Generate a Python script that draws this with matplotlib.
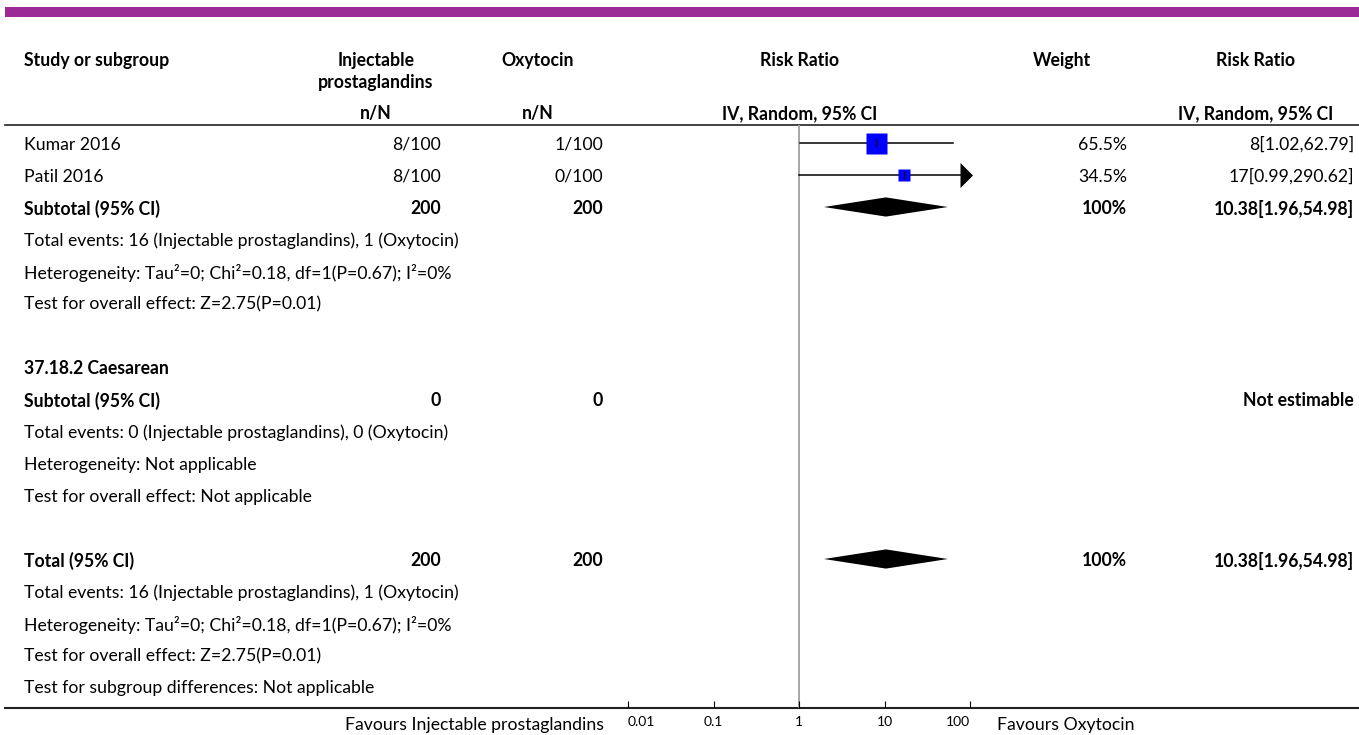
import matplotlib.pyplot as plt
import numpy as np

plt.rcParams['font.family'] = ['Lato', 'DejaVu Sans']

# ---- data ----
grp1 = 'Injectable prostaglandins'
grp2 = 'Oxytocin'

studies = ['Kumar 2016', 'Patil 2016']
ev1 = [8, 8]
n1 = [100, 100]
ev2 = [1, 0]
n2 = [100, 100]
weights = [65.5, 34.5]
rr = [8, 17]
rr_lo = [1.02, 0.99]
rr_hi = [62.79, 290.62]

pooled_rr = 10.38
pooled_lo = 1.96
pooled_hi = 54.98

ticks = [0.01, 0.1, 1, 10, 100]
tick_labels = ['0.01', '0.1', '1', '10', '100']

het = 'Heterogeneity: Tau\u00b2=0; Chi\u00b2=0.18, df=1(P=0.67); I\u00b2=0%'
overall = 'Test for overall effect: Z=2.75(P=0.01)'
events = 'Total events: 16 (Injectable prostaglandins), 1 (Oxytocin)'

# rows: (kind, label, col1, col2, weight, rr text, diamond?)
rows = [
    ('study', 0),
    ('study', 1),
    ('bold', 'Subtotal (95% CI)', '200', '200', '100%', '10.38[1.96,54.98]', True),
    ('note', events),
    ('note', het),
    ('note', overall),
    ('blank',),
    ('bold', '37.18.2 Caesarean', '', '', '', '', False),
    ('bold', 'Subtotal (95% CI)', '0', '0', '', 'Not estimable', False),
    ('note', 'Total events: 0 (Injectable prostaglandins), 0 (Oxytocin)'),
    ('note', 'Heterogeneity: Not applicable'),
    ('note', 'Test for overall effect: Not applicable'),
    ('blank',),
    ('bold', 'Total (95% CI)', '200', '200', '100%', '10.38[1.96,54.98]', True),
    ('note', events),
    ('note', het),
    ('note', overall),
    ('note', 'Test for subgroup differences: Not applicable'),
]

W, H = 1359, 735
FS = 12.7
row0, dy = 143, 32
ax_top, ax_bot = 125, 708
x01, x100 = 628, 970
ty = 1.5  # text baseline nudge

fig = plt.figure(figsize=(W / 100, H / 100), dpi=100)
bg = fig.add_axes([0, 0, 1, 1])
bg.set_xlim(0, W)
bg.set_ylim(H, 0)
bg.axis('off')

# purple band + rules
bg.fill_between([5, W], 7, 17, color='#9b2a97', lw=0)
bg.plot([5, W], [ax_top, ax_top], color='#222222', lw=1.2)
bg.plot([5, W], [ax_bot, ax_bot], color='#222222', lw=1.5)

# headers
hy = 59 + ty
bg.text(24, hy, 'Study or subgroup', fontsize=FS, fontweight='bold', va='center')
bg.text(376, hy, 'Injectable', fontsize=FS, fontweight='bold', va='center', ha='center')
bg.text(376, 81 + ty, 'prostaglandins', fontsize=FS, fontweight='bold', va='center', ha='center')
bg.text(538, hy, grp2, fontsize=FS, fontweight='bold', va='center', ha='center')
bg.text(800, hy, 'Risk Ratio', fontsize=FS, fontweight='bold', va='center', ha='center')
bg.text(1062, hy, 'Weight', fontsize=FS, fontweight='bold', va='center', ha='center')
bg.text(1256, hy, 'Risk Ratio', fontsize=FS, fontweight='bold', va='center', ha='center')
bg.text(376, 112 + ty, 'n/N', fontsize=FS, fontweight='bold', va='center', ha='center')
bg.text(538, 112 + ty, 'n/N', fontsize=FS, fontweight='bold', va='center', ha='center')
bg.text(800, 112 + ty, 'IV, Random, 95% CI', fontsize=FS, fontweight='bold', va='center', ha='center')
bg.text(1256, 112 + ty, 'IV, Random, 95% CI', fontsize=FS, fontweight='bold', va='center', ha='center')

# forest axes
ax = fig.add_axes([x01 / W, 1 - ax_bot / H, (x100 - x01) / W, (ax_bot - ax_top) / H])
ax.set_xscale('log')
ax.set_xlim(ticks[0], ticks[-1])
ax.set_ylim((ax_bot - row0) / dy, (ax_top - row0) / dy)
ax.patch.set_visible(False)
for s in ax.spines.values():
    s.set_visible(False)
ax.set_yticks([])
ax.set_xticks(ticks)
ax.set_xticklabels(tick_labels)
ax.minorticks_off()
ax.tick_params(axis='x', direction='in', length=5, width=0.8, pad=6, labelsize=10)
lbls = ax.get_xticklabels()
lbls[0].set_ha('left')
lbls[-1].set_ha('right')
ax.axvline(1, color='#a0a0a0', lw=1.3, zorder=1)

arrow = [(-0.4, 0.5), (0.1, 0), (-0.4, -0.5), (-0.4, 0.5)]

for i, r in enumerate(rows):
    y = row0 + dy * i + ty
    kind = r[0]
    if kind == 'study':
        k = r[1]
        bg.text(24, y, studies[k], fontsize=FS, va='center')
        bg.text(441, y, f'{ev1[k]}/{n1[k]}', fontsize=FS, va='center', ha='right')
        bg.text(603, y, f'{ev2[k]}/{n2[k]}', fontsize=FS, va='center', ha='right')
        bg.text(1127, y, f'{weights[k]}%', fontsize=FS, va='center', ha='right')
        bg.text(1354, y, f'{rr[k]}[{rr_lo[k]},{rr_hi[k]}]', fontsize=FS, va='center', ha='right')
        hi = min(rr_hi[k], ticks[-1])
        ax.plot([rr_lo[k], hi], [i, i], color='black', lw=1.1, clip_on=False, zorder=2)
        side = 21 * weights[k] / weights[0]
        ax.plot(rr[k], i, marker='s', ms=side * 0.72, mfc='#0000ff', mec='none',
                clip_on=False, zorder=3)
        ax.plot(rr[k], i, marker='|', ms=6, mec='black', mew=0.9, clip_on=False, zorder=4)
        if rr_hi[k] > ticks[-1]:
            ax.plot(ticks[-1], i, marker=arrow, ms=18, color='black', mec='none',
                    clip_on=False, zorder=3)
    elif kind == 'bold':
        _, lab, c1, c2, wt, rtxt, dia = r
        bg.text(24, y, lab, fontsize=FS, fontweight='bold', va='center')
        bg.text(441, y, c1, fontsize=FS, fontweight='bold', va='center', ha='right')
        bg.text(603, y, c2, fontsize=FS, fontweight='bold', va='center', ha='right')
        bg.text(1127, y, wt, fontsize=FS, fontweight='bold', va='center', ha='right')
        bg.text(1354, y, rtxt, fontsize=FS, fontweight='bold', va='center', ha='right')
        if dia:
            h = 0.3
            ax.fill([pooled_lo, pooled_rr, pooled_hi, pooled_rr],
                    [i, i - h, i, i + h], color='black', lw=0, clip_on=False, zorder=3)
    elif kind == 'note':
        bg.text(24, y, r[1], fontsize=FS, va='center')

bg.text(604, 725, 'Favours ' + grp1, fontsize=FS, va='center', ha='right')
bg.text(997, 725, 'Favours ' + grp2, fontsize=FS, va='center', ha='left')

fig.savefig('out.png', dpi=100)
